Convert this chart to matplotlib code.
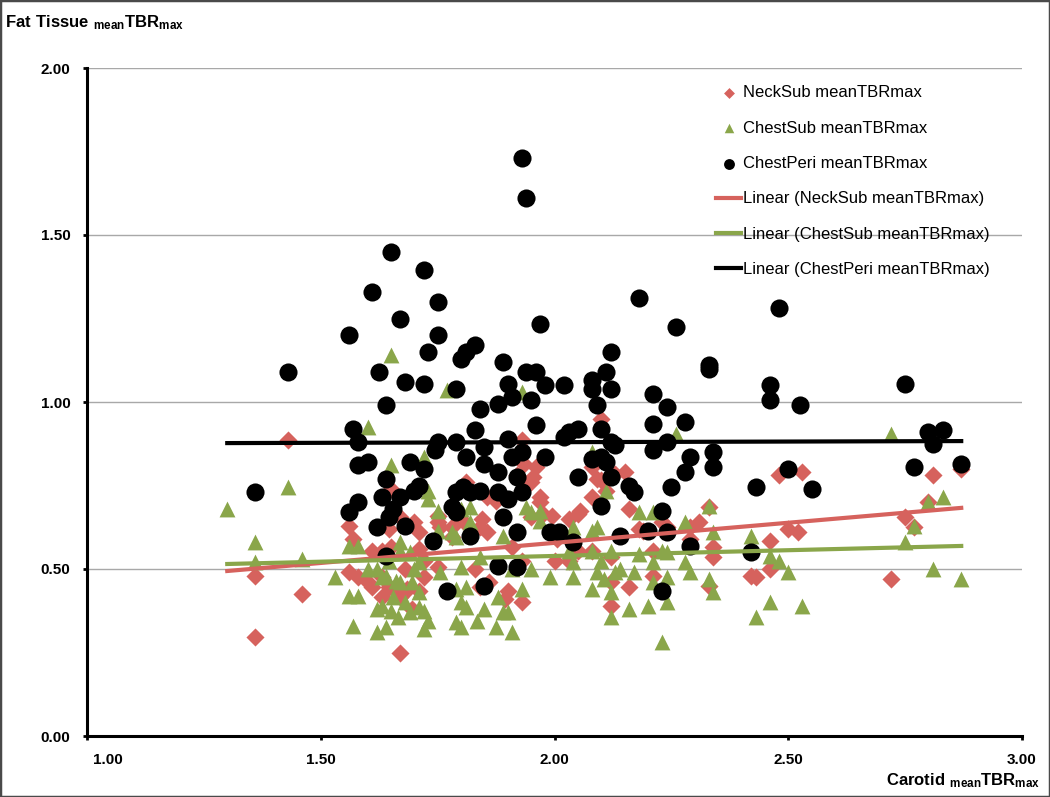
import matplotlib
matplotlib.use("Agg")
import matplotlib.pyplot as plt
import matplotlib.transforms as mtransforms
from matplotlib.patches import Rectangle

plt.rcParams["font.family"] = ["Liberation Sans", "DejaVu Sans"]
plt.rcParams["mathtext.fontset"] = "custom"
plt.rcParams["mathtext.rm"] = "Liberation Sans"
plt.rcParams["mathtext.bf"] = "Liberation Sans:bold"

# NeckSub meanTBRmax (rojo)
neck_x = [1.36, 1.36, 1.43, 1.46, 1.56, 1.56, 1.57, 1.58, 1.60, 1.61, 1.61, 1.63, 1.63, 1.63,
          1.645, 1.645, 1.65, 1.65, 1.655, 1.67, 1.67, 1.67, 1.68, 1.68, 1.685, 1.695, 1.70,
          1.71, 1.71, 1.71, 1.72, 1.72, 1.75, 1.75, 1.75, 1.755, 1.78, 1.78, 1.805, 1.81, 1.83,
          1.84, 1.845, 1.84, 1.855, 1.855, 1.86, 1.875, 1.895, 1.90, 1.91, 1.92, 1.93, 1.935,
          1.93, 1.93, 1.95, 1.95, 1.96, 1.955, 1.97, 1.97, 1.975, 1.995, 2.00, 2.005, 2.03, 2.03,
          2.05, 2.055, 2.05, 2.08, 2.08, 2.08, 2.09, 2.10, 2.10, 2.11, 2.12, 2.12, 2.12, 2.13,
          2.15, 2.16, 2.16, 2.18, 2.19, 2.21, 2.21, 2.23, 2.24, 2.29, 2.29, 2.31, 2.33, 2.33,
          2.34, 2.34, 2.42, 2.43, 2.46, 2.46, 2.48, 2.50, 2.52, 2.53, 2.72, 2.75, 2.77, 2.80,
          2.81, 2.87]
neck_y = [0.48, 0.295, 0.885, 0.425, 0.63, 0.49, 0.59, 0.475, 0.46, 0.555, 0.445, 0.555, 0.475, 0.415,
          0.62, 0.445, 0.74, 0.565, 0.44, 0.655, 0.415, 0.25, 0.50, 0.43, 0.44, 0.38, 0.64,
          0.61, 0.56, 0.435, 0.525, 0.475, 0.66, 0.64, 0.505, 0.625, 0.625, 0.595, 0.645, 0.76, 0.50,
          0.445, 0.65, 0.625, 0.61, 0.715, 0.46, 0.705, 0.41, 0.435, 0.565, 0.78, 0.885, 0.815,
          0.525, 0.40, 0.76, 0.655, 0.805, 0.775, 0.715, 0.70, 0.665, 0.66, 0.525, 0.59, 0.65, 0.525,
          0.665, 0.675, 0.555, 0.715, 0.555, 0.805, 0.77, 0.95, 0.765, 0.735, 0.535, 0.46, 0.39, 0.785,
          0.79, 0.68, 0.445, 0.62, 0.615, 0.48, 0.555, 0.64, 0.625, 0.625, 0.59, 0.64, 0.685, 0.45,
          0.565, 0.535, 0.48, 0.475, 0.585, 0.50, 0.78, 0.62, 0.61, 0.79, 0.47, 0.655, 0.625, 0.70,
          0.78, 0.80]

# ChestSub meanTBRmax (verde)
chest_x = [1.30, 1.36, 1.36, 1.43, 1.46, 1.53, 1.56, 1.58, 1.56, 1.58, 1.57, 1.60, 1.60, 1.62,
           1.62, 1.62, 1.63, 1.63, 1.64, 1.64, 1.645, 1.65, 1.65, 1.655, 1.65, 1.66, 1.665, 1.67,
           1.67, 1.67, 1.68, 1.69, 1.69, 1.695, 1.70, 1.71, 1.71, 1.71, 1.72, 1.72, 1.72, 1.73,
           1.73, 1.73, 1.75, 1.75, 1.755, 1.77, 1.78, 1.79, 1.79, 1.79, 1.80, 1.80, 1.80, 1.80,
           1.81, 1.81, 1.82, 1.82, 1.835, 1.84, 1.85, 1.88, 1.875, 1.89, 1.89, 1.90, 1.91, 1.91,
           1.93, 1.93, 1.94, 1.95, 1.95, 1.97, 1.97, 1.99, 2.03, 2.04, 2.04, 2.04, 2.08, 2.08,
           2.08, 2.08, 2.09, 2.09, 2.10, 2.105, 2.11, 2.12, 2.12, 2.12, 2.13, 2.14, 2.16, 2.17,
           2.18, 2.18, 2.20, 2.21, 2.21, 2.21, 2.23, 2.23, 2.24, 2.24, 2.24, 2.26, 2.28, 2.28,
           2.29, 2.33, 2.33, 2.34, 2.34, 2.42, 2.43, 2.46, 2.46, 2.48, 2.50, 2.53, 2.72, 2.75,
           2.77, 2.80, 2.81, 2.83, 2.87]
chest_y = [0.68, 0.58, 0.52, 0.745, 0.53, 0.475, 0.57, 0.57, 0.42, 0.42, 0.33, 0.925, 0.50, 0.50,
           0.38, 0.31, 0.475, 0.39, 0.48, 0.325, 0.525, 1.14, 0.81, 0.415, 0.375, 0.465, 0.355, 0.58,
           0.555, 0.46, 0.40, 0.55, 0.37, 0.46, 0.50, 0.52, 0.43, 0.385, 0.835, 0.375, 0.32, 0.735,
           0.71, 0.345, 0.675, 0.615, 0.49, 1.035, 0.61, 0.595, 0.44, 0.34, 0.68, 0.505, 0.40, 0.325,
           0.445, 0.385, 0.64, 0.685, 0.345, 0.535, 0.38, 0.415, 0.325, 0.60, 0.37, 0.37, 0.50, 0.31,
           1.03, 0.44, 0.685, 0.67, 0.50, 0.675, 0.645, 0.475, 0.555, 0.625, 0.52, 0.475, 0.85, 0.615,
           0.555, 0.44, 0.625, 0.49, 0.525, 0.47, 0.735, 0.555, 0.43, 0.355, 0.49, 0.50, 0.38, 0.49,
           0.67, 0.545, 0.39, 0.67, 0.46, 0.52, 0.555, 0.28, 0.55, 0.475, 0.40, 0.905, 0.64, 0.52,
           0.49, 0.69, 0.47, 0.61, 0.43, 0.60, 0.355, 0.54, 0.40, 0.525, 0.49, 0.39, 0.905, 0.58,
           0.63, 0.70, 0.50, 0.715, 0.47]

# ChestPeri meanTBRmax (negro)
peri_x = [1.36, 1.43, 1.56, 1.56, 1.57, 1.58, 1.58, 1.58, 1.60, 1.61, 1.625, 1.62, 1.63, 1.64,
          1.64, 1.645, 1.65, 1.655, 1.64, 1.67, 1.67, 1.68, 1.68, 1.69, 1.70, 1.71, 1.72, 1.72,
          1.72, 1.73, 1.74, 1.745, 1.75, 1.75, 1.75, 1.77, 1.78, 1.79, 1.79, 1.79, 1.79, 1.80,
          1.81, 1.83, 1.805, 1.81, 1.82, 1.82, 1.83, 1.84, 1.84, 1.85, 1.85, 1.85, 1.88, 1.88,
          1.88, 1.88, 1.89, 1.89, 1.90, 1.90, 1.90, 1.91, 1.91, 1.92, 1.92, 1.92, 1.93, 1.93,
          1.93, 1.94, 1.94, 1.95, 1.96, 1.96, 1.97, 1.98, 1.98, 1.99, 2.01, 2.02, 2.03, 2.02,
          2.04, 2.05, 2.05, 2.08, 2.08, 2.08, 2.09, 2.10, 2.10, 2.10, 2.11, 2.11, 2.12, 2.12,
          2.12, 2.12, 2.13, 2.14, 2.16, 2.17, 2.18, 2.20, 2.21, 2.21, 2.21, 2.23, 2.23, 2.24,
          2.24, 2.24, 2.25, 2.26, 2.28, 2.28, 2.29, 2.29, 2.33, 2.33, 2.34, 2.34, 2.42, 2.43,
          2.46, 2.46, 2.48, 2.50, 2.525, 2.55, 2.75, 2.77, 2.80, 2.81, 2.83, 2.87]
peri_y = [0.73, 1.09, 1.20, 0.67, 0.92, 0.88, 0.81, 0.70, 0.82, 1.33, 1.09, 0.625, 0.715, 0.77,
          0.99, 0.655, 1.45, 0.68, 0.54, 0.715, 1.25, 1.06, 0.63, 0.82, 0.735, 0.75, 1.395, 1.055,
          0.80, 1.15, 0.585, 0.855, 1.30, 1.20, 0.88, 0.435, 0.685, 0.67, 1.04, 0.88, 0.73, 1.13,
          1.15, 1.17, 0.745, 0.835, 0.73, 0.60, 0.915, 0.98, 0.735, 0.865, 0.815, 0.45, 0.995, 0.79,
          0.73, 0.51, 1.12, 0.655, 1.055, 0.89, 0.71, 1.015, 0.835, 0.775, 0.61, 0.505, 1.73, 0.85,
          0.73, 1.61, 1.09, 1.005, 1.09, 0.93, 1.235, 1.05, 0.835, 0.61, 0.61, 1.05, 0.91, 0.895,
          0.58, 0.92, 0.775, 1.065, 1.04, 0.83, 0.99, 0.92, 0.835, 0.69, 1.09, 0.82, 1.15, 1.04,
          0.88, 0.775, 0.87, 0.60, 0.75, 0.73, 1.31, 0.615, 1.025, 0.935, 0.855, 0.675, 0.435, 0.985,
          0.88, 0.61, 0.745, 1.225, 0.94, 0.79, 0.835, 0.57, 1.11, 1.10, 0.85, 0.805, 0.55, 0.745,
          1.05, 1.005, 1.28, 0.80, 0.99, 0.74, 1.055, 0.805, 0.91, 0.875, 0.915, 0.815]

# Líneas de tendencia (extremos)
trend_x = [1.30, 2.87]
neck_trend = [0.494, 0.683]
chest_trend = [0.515, 0.569]
peri_trend = [0.877, 0.883]

red = "#d6625d"
green = "#8aa64a"

fig = plt.figure(figsize=(10.5, 7.97), dpi=100)
ax = fig.add_axes([87 / 1050, 1 - 736 / 797, 935 / 1050, 668 / 797])

ax.scatter(neck_x, neck_y, marker="D", s=85, color=red, linewidths=0, zorder=3,
           label="NeckSub meanTBRmax")
ax.scatter(chest_x, chest_y, marker="^", s=130, color=green, linewidths=0, zorder=4,
           label="ChestSub meanTBRmax")
ax.scatter(peri_x, peri_y, marker="o", s=170, color="black", linewidths=0, zorder=5,
           label="ChestPeri meanTBRmax")
ax.plot(trend_x, neck_trend, color=red, lw=3, zorder=6, label="Linear (NeckSub meanTBRmax)")
ax.plot(trend_x, chest_trend, color=green, lw=3, zorder=7, label="Linear (ChestSub meanTBRmax)")
ax.plot(trend_x, peri_trend, color="black", lw=3, zorder=8, label="Linear (ChestPeri meanTBRmax)")

ax.set_xlim(1.0, 3.0)
ax.set_ylim(0.0, 2.0)
ax.set_xticks([1.0, 1.5, 2.0, 2.5, 3.0])
ax.set_yticks([0.0, 0.5, 1.0, 1.5, 2.0])
ax.set_xticklabels(["1.00", "1.50", "2.00", "2.50", "3.00"])
ax.set_yticklabels(["0.00", "0.50", "1.00", "1.50", "2.00"])
for lab in ax.get_xticklabels() + ax.get_yticklabels():
    lab.set_fontweight("bold")
    lab.set_fontsize(11)
ax.tick_params(axis="both", direction="out", length=3, width=2, color="black")
ax.tick_params(axis="y", pad=9)
ax.tick_params(axis="x", pad=9)

# la etiqueta "1.00" aparece desplazada a la derecha en el original
first = ax.get_xticklabels()[0]
first.set_transform(first.get_transform() +
                    mtransforms.ScaledTranslation(21 / 100, 0, fig.dpi_scale_trans))

ax.yaxis.grid(True, color="#a8a8a8", lw=1)
ax.set_axisbelow(True)
for side in ["top", "right"]:
    ax.spines[side].set_visible(False)
for side in ["left", "bottom"]:
    ax.spines[side].set_linewidth(2.2)
    ax.spines[side].set_color("black")

fig.text(5 / 1050, 1 - 23 / 797, r"$\mathbf{Fat\ Tissue\ {}_{mean}TBR_{max}}$",
         fontsize=12, ha="left", va="center")
fig.text(1040 / 1050, 1 - 781 / 797, r"$\mathbf{Carotid\ {}_{mean}TBR_{max}}$",
         fontsize=12, ha="right", va="center")

leg = ax.legend(loc="upper left", bbox_to_anchor=(708 / 1050, 1 - 77 / 797),
                bbox_transform=fig.transFigure, frameon=False, fontsize=12,
                labelspacing=1.22, handlelength=1.5, handletextpad=0.1,
                borderpad=0, markerscale=0.6, scatterpoints=1)

fig.patches.append(Rectangle((0, 0), 1, 1, transform=fig.transFigure, fill=False,
                             edgecolor="#4a4a4a", lw=2.5))

plt.savefig("out.png", dpi=100)
